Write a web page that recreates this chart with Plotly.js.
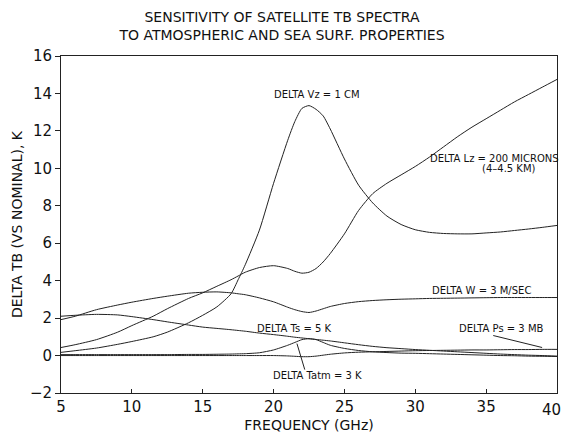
<!DOCTYPE html>
<html>
<head>
<meta charset="utf-8">
<script src="https://cdn.plot.ly/plotly-3.0.1.min.js"></script>
<style>html,body{margin:0;padding:0;background:#fff;}#chart{width:564px;height:434px;}</style>
</head>
<body>
<div id="chart"></div>
<script>
// Frequency grid (GHz)
var freq = [5, 6, 7.5, 9, 10, 11.5, 12.5, 14, 15, 16, 17, 17.5, 18, 19, 20, 21, 21.5, 22, 22.5, 23, 23.5, 24, 25, 26, 27, 28, 29, 30, 31, 32, 33, 34, 35, 36, 37, 38, 39, 40];

// Delta TB (K) for each perturbation
var dVz   = [0.17, 0.26, 0.4, 0.6, 0.75, 1.0, 1.25, 1.75, 2.15, 2.6, 3.3, 4.05, 4.85, 6.7, 9.2, 11.5, 12.5, 13.2, 13.35, 13.15, 12.8, 12.1, 10.5, 9.1, 8.15, 7.45, 7.0, 6.72, 6.58, 6.52, 6.5, 6.5, 6.55, 6.6, 6.68, 6.76, 6.85, 6.95];
var dLz   = [0.43, 0.58, 0.85, 1.25, 1.6, 2.1, 2.5, 3.05, 3.35, 3.7, 4.05, 4.25, 4.45, 4.7, 4.8, 4.65, 4.5, 4.4, 4.45, 4.65, 5.0, 5.45, 6.5, 7.75, 8.65, 9.2, 9.65, 10.1, 10.6, 11.15, 11.7, 12.2, 12.65, 13.1, 13.55, 13.95, 14.35, 14.75];
var dW    = [1.92, 2.1, 2.45, 2.7, 2.85, 3.05, 3.17, 3.33, 3.38, 3.4, 3.35, 3.3, 3.25, 3.08, 2.87, 2.58, 2.45, 2.35, 2.3, 2.38, 2.5, 2.62, 2.78, 2.88, 2.94, 2.98, 3.01, 3.03, 3.05, 3.06, 3.07, 3.08, 3.09, 3.1, 3.1, 3.1, 3.1, 3.1];
var dTs   = [2.1, 2.15, 2.2, 2.17, 2.08, 1.92, 1.8, 1.63, 1.52, 1.45, 1.38, 1.34, 1.3, 1.2, 1.12, 1.03, 0.98, 0.94, 0.9, 0.86, 0.82, 0.78, 0.68, 0.58, 0.49, 0.42, 0.37, 0.32, 0.28, 0.24, 0.2, 0.16, 0.12, 0.08, 0.05, 0.02, 0.0, -0.03];
var dTatm = [0.05, 0.05, 0.05, 0.05, 0.05, 0.05, 0.05, 0.06, 0.06, 0.07, 0.08, 0.09, 0.1, 0.15, 0.3, 0.55, 0.7, 0.85, 0.9, 0.85, 0.7, 0.55, 0.38, 0.27, 0.2, 0.16, 0.13, 0.12, 0.1, 0.08, 0.06, 0.04, 0.02, 0.0, -0.01, -0.03, -0.04, -0.05];
var dPs   = [0, 0, 0, 0, 0, 0, 0, 0, 0, 0, 0, 0, 0, 0, 0, -0.02, -0.04, -0.06, -0.06, -0.03, 0.02, 0.07, 0.14, 0.18, 0.2, 0.22, 0.24, 0.26, 0.27, 0.28, 0.29, 0.3, 0.3, 0.31, 0.32, 0.32, 0.33, 0.33];

var seriesNames = ["DELTA Vz = 1 CM", "DELTA Lz = 200 MICRONS", "DELTA W = 3 M/SEC", "DELTA Ts = 5 K", "DELTA Tatm = 3 K", "DELTA Ps = 3 MB"];

// Axis ticks
var xTicks = [5, 10, 15, 20, 25, 30, 35, 40];
var xTickText = ["5", "10", "15", "20", "25", "30", "35", "40"];
var yTicks = [-2, 0, 2, 4, 6, 8, 10, 12, 14, 16];
var yTickText = ["\u22122", "0", "2", "4", "6", "8", "10", "12", "14", "16"];

// Label text and anchor (data coordinates)
var labelText = ["DELTA Vz = 1 CM", "DELTA Lz = 200 MICRONS", "(4\u20134.5 KM)", "DELTA W = 3 M/SEC", "DELTA Ts = 5 K", "DELTA Ps = 3 MB", "DELTA Tatm = 3 K"];
var labelX = [23.05, 35.6, 36.6, 34.7, 21.5, 36.05, 23.1];
var labelY = [13.95, 10.5, 9.97, 3.5, 1.44, 1.44, -1.07];

// Leader lines: [x0, y0, x1, y1]
var leaderPs = [35.5, 1.07, 38.95, 0.43];
var leaderTatm = [22.2, -0.75, 21.65, 0.64];

var allY = [dVz, dLz, dW, dTs, dTatm, dPs];
var traces = allY.map(function (ys, i) {
  return {
    x: freq, y: ys, name: seriesNames[i], type: "scatter", mode: "lines",
    line: {color: "#222", width: 1, shape: "spline", smoothing: 0.6},
    hoverinfo: "skip"
  };
});

var fontMain = "DejaVu Sans, sans-serif";
var annotations = labelText.map(function (t, i) {
  return {x: labelX[i], y: labelY[i], xref: "x", yref: "y", text: t, showarrow: false,
          font: {family: fontMain, size: 10, color: "#111"}};
});
// last x tick label, kept inside the picture at the right edge
annotations.push({x: 1, y: 0, xref: "paper", yref: "paper", yshift: -6, xshift: 6,
  text: xTickText[xTickText.length - 1], showarrow: false, xanchor: "right", yanchor: "top",
  font: {family: fontMain, size: 15, color: "#111"}});

var shapes = [leaderPs, leaderTatm].map(function (s) {
  return {type: "line", xref: "x", yref: "y", x0: s[0], y0: s[1], x1: s[2], y1: s[3],
          line: {color: "#222", width: 1}};
});

var layout = {
  width: 564, height: 434,
  margin: {l: 61, r: 7, t: 56, b: 41},
  paper_bgcolor: "#fff", plot_bgcolor: "#fff",
  showlegend: false,
  font: {family: fontMain, color: "#111"},
  title: {
    text: "SENSITIVITY OF SATELLITE TB SPECTRA<br>TO ATMOSPHERIC AND SEA SURF. PROPERTIES",
    font: {family: fontMain, size: 14, color: "#111"},
    xref: "container", x: 0.5, xanchor: "center",
    yref: "container", y: 0.95, yanchor: "middle"
  },
  xaxis: {
    range: [5, 40], tickvals: xTicks.slice(0, -1), ticktext: xTickText.slice(0, -1),
    ticks: "inside", ticklen: 4, tickcolor: "#222",
    showline: true, linecolor: "#222", linewidth: 1, mirror: true,
    showgrid: false, zeroline: false,
    tickfont: {family: fontMain, size: 15, color: "#111"},
    title: {text: "FREQUENCY (GHz)", font: {family: fontMain, size: 14, color: "#111"}, standoff: 5}
  },
  yaxis: {
    range: [-2, 16], tickvals: yTicks, ticktext: yTickText,
    ticks: "outside", ticklen: 5, tickcolor: "#222",
    showline: true, linecolor: "#222", linewidth: 1, mirror: true,
    showgrid: false, zeroline: false,
    tickfont: {family: fontMain, size: 15, color: "#111"},
    title: {text: "DELTA TB (VS NOMINAL), K", font: {family: fontMain, size: 14, color: "#111"}, standoff: 3}
  },
  annotations: annotations,
  shapes: shapes
};

Plotly.newPlot("chart", traces, layout, {displayModeBar: false, staticPlot: true});
</script>
</body>
</html>
